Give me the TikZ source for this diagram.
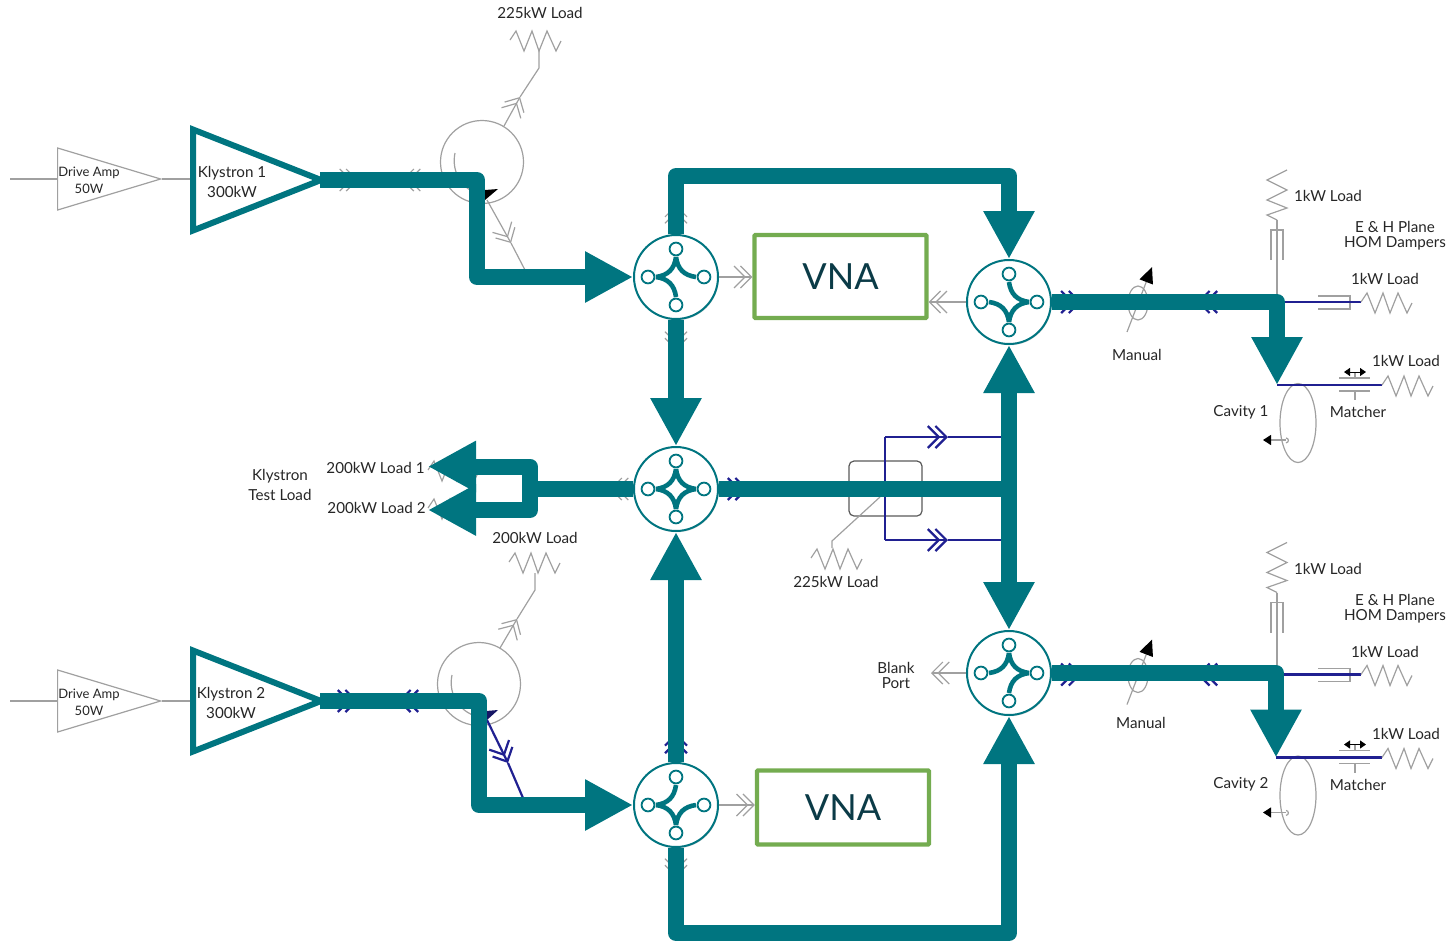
\documentclass[tikz,border=0pt]{standalone}
\usepackage{fontspec}
\setmainfont{Lato}
\usepackage{tikz}
\usetikzlibrary{arrows.meta,shapes,shadows}
\definecolor{rfteal}{RGB}{0,117,128}
\definecolor{rfgreen}{RGB}{116,172,80}
\definecolor{rfblue}{RGB}{32,32,145}
\definecolor{rfgray}{RGB}{160,160,160}
\definecolor{rftext}{RGB}{11,59,71}
\newcommand{\hzig}{-- ++(6,-9) -- ++(8,20) -- ++(8,-20) -- ++(7,20) -- ++(8,-20) -- ++(9,20) -- ++(5,-10)}
\newcommand{\hybrid}[4]{%
  \node [hybridbody] (#1) at (#2,#3) {};
  \foreach \a in {0,90,180,270}
    \node [hybridport] (#1p\a) at ([shift={(\a:14pt)}]#1.center) {};
  \foreach \a in {#4}
    \draw [hybridarm,rotate around={\a:(#1.center)}]
      ([shift={(0pt,10pt)}]#1.center) .. controls ([shift={(0.8pt,4pt)}]#1.center) and ([shift={(4pt,0.8pt)}]#1.center) .. ([shift={(10pt,0pt)}]#1.center);
}
\begin{document}
\begin{tikzpicture}[x=0.5pt,y=-0.5pt]
  \tikzstyle{thinline}=[rfgray,line width=0.6pt]
  \tikzstyle{blueline}=[rfblue,line width=1.1pt]
  \tikzstyle{chev}=[-{Straight Barb[length=5.5pt,width=11pt,sep=-3pt]Straight Barb[length=5.5pt,width=11pt]}]
  \tikzstyle{power}=[rfteal,line width=8pt,line join=round]
  \tikzstyle{powerarrow}=[power,-{Triangle[length=24pt,width=24pt]}]
  \tikzstyle{label}=[inner sep=0pt,text=black!85,font=\fontsize{7.6}{10}\selectfont,align=center]
  \tikzstyle{smalllabel}=[label,font=\fontsize{6.5}{8.5}\selectfont]
  \tikzstyle{tightlabel}=[label,font=\fontsize{7.6}{7.6}\selectfont]
  \tikzstyle{drive}=[isosceles triangle,isosceles triangle stretches,draw=rfgray,line width=0.6pt,
                     anchor=lower side,minimum height=51.5pt,minimum width=31pt,inner sep=0pt]
  \tikzstyle{klystron}=[isosceles triangle,isosceles triangle stretches,draw=rfteal,fill=white,line width=3pt,
                        anchor=lower side,minimum height=64pt,minimum width=50.5pt,inner sep=0pt,
                        drop shadow={opacity=0.25,shadow xshift=0.4pt,shadow yshift=-0.6pt}]
  \tikzstyle{circulator}=[circle,draw=rfgray,line width=0.6pt,minimum size=41.5pt,inner sep=0pt]
  \tikzstyle{hybridbody}=[circle,draw=rfteal,fill=white,line width=1pt,minimum size=42pt,inner sep=0pt,
                          drop shadow={opacity=0.3,shadow xshift=0.4pt,shadow yshift=-0.6pt}]
  \tikzstyle{hybridport}=[circle,draw=rfteal,fill=white,line width=0.9pt,minimum size=6.4pt,inner sep=0pt]
  \tikzstyle{hybridarm}=[rfteal,line width=2.3pt]
  \tikzstyle{vna}=[rectangle,draw=rfgreen,fill=white,line width=2.2pt,rounded corners=0.5pt,
                   minimum width=86pt,text=rftext,font=\fontsize{18}{22}\selectfont]
  \tikzstyle{coupler}=[rectangle,rounded corners=2.5pt,draw=black!65,line width=0.6pt,
                       minimum width=36.5pt,minimum height=27.5pt,inner sep=0pt]
  \tikzstyle{shifter}=[ellipse,draw=rfgray,line width=0.6pt,minimum width=10pt,minimum height=17pt,inner sep=0pt]
  \tikzstyle{cavity}=[ellipse,draw=rfgray,line width=0.6pt,minimum width=18pt,minimum height=39.5pt,inner sep=0pt]

  % hybrids and boxes
  \coordinate (b1) at (477,277);
  \coordinate (b2) at (479,805);
  \coordinate (b3) at (1009,176);
  \coordinate (b4) at (1009,933);
  \coordinate (j1) at (1009,489);
  \coordinate (j2) at (530,489);
  \coordinate (tip1) at (428,466.5);
  \coordinate (tip2) at (428,510);
  \node [vna,minimum height=41.5pt] (vna1) at (840.5,276.5) {VNA};
  \node [vna,minimum height=37pt] (vna2) at (843,807.5) {VNA};

  % klystron 1
  \begin{scope}
    \coordinate (in1) at (10,179);
    \node [drive] (drv1) at (57,179) {};
    \node [klystron] (k1) at (190,180) {};
    \node [smalllabel] (drvt1) at (89,180) {Drive Amp\\50W};
    \node [label] (kt1) at (232,181.5) {Klystron 1\\300kW};
    \node [circulator] (c1) at (482,162) {};
    \coordinate (ch1a) at (358,180);
    \coordinate (ch1b) at (402,180);
    \coordinate (ch1c) at (520,97);
    \coordinate (ch1d) at (511,243);
    \coordinate (ch1e) at (445,180);
    \coordinate (st1a) at (539,68);
    \coordinate (st1b) at (539,50);
    \coordinate (lz1) at (510,40);
    \coordinate (cs1) at (504,126);
    \coordinate (cd1) at (487,200);
    \coordinate (cb1) at (525,270);
    \node [label] (lt1) at (540,13) {225kW Load};
    \draw [thinline] (in1) -- (drv1.lower side);
    \draw [thinline] (drv1.apex) -- (k1.lower side |- drv1.apex);
    \draw [thinline,chev] (k1.apex) -- (ch1a);
    \draw [thinline,chev] (ch1e) -- (ch1b);
    \draw [thinline,chev] (cs1) -- (ch1c);
    \draw [thinline] (ch1c) -- (st1a) -- (st1b);
    \draw [thinline] (lz1) \hzig;
    \draw [thinline,chev] (cd1) -- (ch1d);
    \draw [thinline] (ch1d) -- (cb1);
    \draw [thinline] (455,153) .. controls (451,172) and (462,192) .. (486,196);
    \fill [black] (485,190) -- (498,189) -- (485,200) -- cycle;
  \end{scope}

  % klystron 2
  \begin{scope}
    \coordinate (in2) at (10,701);
    \node [drive] (drv2) at (57,701) {};
    \node [klystron] (k2) at (190,701) {};
    \node [smalllabel] (drvt2) at (89,702) {Drive Amp\\50W};
    \node [label] (kt2) at (231,702.5) {Klystron 2\\300kW};
    \node [circulator] (c2) at (479,684) {};
    \coordinate (ch2a) at (358,701);
    \coordinate (ch2b) at (398,701);
    \coordinate (ch2c) at (517,619);
    \coordinate (ch2d) at (508,763);
    \coordinate (ch2e) at (442,701);
    \coordinate (st2a) at (535,590);
    \coordinate (st2b) at (535,573);
    \coordinate (lz2) at (509,562);
    \coordinate (cs2) at (500,648);
    \coordinate (cd2) at (487,720);
    \coordinate (cb2) at (523,798);
    \node [label] (lt2) at (535,538) {200kW Load};
    \draw [thinline] (in2) -- (drv2.lower side);
    \draw [thinline] (drv2.apex) -- (k2.lower side |- drv2.apex);
    \draw [blueline,chev] (k2.apex) -- (ch2a);
    \draw [blueline,chev] (ch2e) -- (ch2b);
    \draw [thinline,chev] (cs2) -- (ch2c);
    \draw [thinline] (ch2c) -- (st2a) -- (st2b);
    \draw [thinline] (lz2) \hzig;
    \draw [blueline,chev] (cd2) -- (ch2d);
    \draw [blueline] (ch2d) -- (cb2);
    \draw [thinline] (452,675) .. controls (448,694) and (459,714) .. (483,718);
    \fill [rfblue!70!black] (486,711) -- (498,710) -- (487,720) -- cycle;
  \end{scope}

  % coupler and test loads
  \begin{scope}
    \node [coupler] (cp) at (885.5,488.5) {};
    \coordinate (cpa) at (885,437);
    \coordinate (cpb) at (885,540);
    \coordinate (cpc) at (948,437);
    \coordinate (cpd) at (948,540);
    \coordinate (cpe) at (1009,437);
    \coordinate (cpf) at (1009,540);
    \coordinate (cpg) at (880,497);
    \coordinate (cph) at (832,541);
    \coordinate (lz3) at (811,558);
    \coordinate (lz4) at (428,470);
    \coordinate (lz5) at (428,508);
    \node [label] (lt3) at (836,582) {225kW Load};
    \node [label] (lt4) at (375.5,468) {200kW Load 1};
    \node [label] (lt5) at (376.5,508) {200kW Load 2};
    \node [label] (lt6) at (280,485) {Klystron\\Test Load};
    \draw [blueline] (cpa) -- (cpb);
    \draw [blueline,chev] (cpa) -- (cpc);
    \draw [blueline,chev] (cpb) -- (cpd);
    \draw [blueline] (cpc) -- (cpe);
    \draw [blueline] (cpd) -- (cpf);
    \draw [thinline] (cpg) -- (cph) -- (832,548);
    \draw [thinline] (lz3) \hzig;
    \draw [thinline] (lz4) \hzig;
    \draw [thinline] (lz5) \hzig;
  \end{scope}

  % cavity 1
  \begin{scope}
    \coordinate (cr1) at (1277,302);
    \coordinate (ld1) at (1277,220);
    \coordinate (zg1) at (1361,302);
    \coordinate (zh1) at (1382,385);
    \coordinate (tp1) at (1277,385);
    \node [shifter] (ps1) at (1138,303) {};
    \node [cavity] (cv1) at (1298,423) {};
    \node [label] (lo1) at (1328,196) {1kW Load};
    \node [tightlabel] (eh1) at (1395,236) {E \& H Plane\\HOM Dampers};
    \node [label] (lo2) at (1385,279) {1kW Load};
    \node [label] (lo3) at (1406,361) {1kW Load};
    \node [label] (mn1) at (1137,355) {Manual};
    \node [label] (ct1) at (1241,412) {Cavity 1};
    \node [label] (mt1) at (1358,412) {Matcher};
    \draw [thinline] (1287,170) -- (1267,180) -- (1287,190) -- (1267,200) -- (1287,208) -- (1267,215) -- (ld1);
    \draw [thinline] (ld1) -- (cr1);
    \draw [thinline] (1271,260) -- (1271,230) -- (1283,230) -- (1283,260);
    \draw [thinline] (1318,296) -- (1350,296) -- (1350,309) -- (1318,309);
    \draw [blueline] (cr1) -- (zg1);
    \draw [thinline] (zg1) \hzig;
    \draw [blueline] (tp1) -- (zh1);
    \draw [thinline] (zh1) \hzig;
    \draw [thinline] (1339,378) -- (1370,378);
    \draw [thinline] (1339,391) -- (1370,391);
    \draw [thinline] (1355,372) -- (1355,378);
    \draw [thinline] (1355,391) -- (1355,400);
    \draw [black,line width=0.5pt,{Triangle[length=3pt,width=4pt]}-{Triangle[length=3pt,width=4pt]}] (1344,372) -- (1366,372);
    \draw [thinline,-{Triangle[black,length=8pt,width=7pt]}] (1127,332) -- (1152,267);
    \draw [thinline,-{Triangle[black,length=4pt,width=5pt]}] (1286,440) -- (1263,440);
    \draw [thinline] (1286,438) arc (90:-90:1.2pt);
    \draw [blueline,chev] (ps1.west) ++(-64,-1) -- ++(18,0);
    \draw [blueline,chev] (cr1) ++(-62,0) -- ++(-18,0);
  \end{scope}

  % cavity 2
  \begin{scope}[yshift=-186.25pt]
    \coordinate (cr2) at (1277,302);
    \coordinate (ld2) at (1277,220);
    \coordinate (zg2) at (1361,302);
    \coordinate (zh2) at (1382,385);
    \coordinate (tp2) at (1276,385);
    \node [shifter] (ps2) at (1138,303) {};
    \node [cavity] (cv2) at (1298,423) {};
    \node [label] (lo4) at (1328,196) {1kW Load};
    \node [tightlabel] (eh2) at (1395,236) {E \& H Plane\\HOM Dampers};
    \node [label] (lo5) at (1385,279) {1kW Load};
    \node [label] (lo6) at (1406,361) {1kW Load};
    \node [label] (mn2) at (1141,350) {Manual};
    \node [label] (ct2) at (1241,412) {Cavity 2};
    \node [label] (mt2) at (1358,412) {Matcher};
    \draw [thinline] (1287,170) -- (1267,180) -- (1287,190) -- (1267,200) -- (1287,208) -- (1267,215) -- (ld2);
    \draw [thinline] (ld2) -- (cr2);
    \draw [thinline] (1271,260) -- (1271,230) -- (1283,230) -- (1283,260);
    \draw [thinline] (1318,296) -- (1350,296) -- (1350,309) -- (1318,309);
    \draw [blueline] (cr2) -- (zg2);
    \draw [thinline] (zg2) \hzig;
    \draw [blueline] (tp2) -- (zh2);
    \draw [thinline] (zh2) \hzig;
    \draw [thinline] (1339,378) -- (1370,378);
    \draw [thinline] (1339,391) -- (1370,391);
    \draw [thinline] (1355,372) -- (1355,378);
    \draw [thinline] (1355,391) -- (1355,400);
    \draw [black,line width=0.5pt,{Triangle[length=3pt,width=4pt]}-{Triangle[length=3pt,width=4pt]}] (1344,372) -- (1366,372);
    \draw [thinline,-{Triangle[black,length=8pt,width=7pt]}] (1127,332) -- (1152,267);
    \draw [thinline,-{Triangle[black,length=4pt,width=5pt]}] (1286,440) -- (1263,440);
    \draw [thinline] (1286,438) arc (90:-90:1.2pt);
    \draw [blueline,chev] (ps2.west) ++(-64,-1) -- ++(18,0);
    \draw [blueline,chev] (cr2) ++(-62,0) -- ++(-18,0);
  \end{scope}

  % hybrids
  \hybrid{h1}{676}{277}{0,90,180}
  \hybrid{h2}{1009}{302}{0,180,270}
  \hybrid{h3}{676}{489}{0,90,180,270}
  \hybrid{h4}{1009}{673}{0,90,270}
  \hybrid{h5}{676}{805}{90,180,270}

  % small chevrons along the power paths
  \coordinate (ch3a) at (676,205);
  \coordinate (ch3b) at (676,350);
  \coordinate (ch3c) at (610,489);
  \coordinate (ch3d) at (748,489);
  \coordinate (ch3e) at (676,733);
  \coordinate (ch3f) at (676,877);
  \draw [thinline,chev] (h1.north) -- (ch3a);
  \draw [thinline,chev] (h1.south) -- (ch3b);
  \draw [thinline,chev] (h3.west) -- (ch3c);
  \draw [blueline,chev] (h3.east) -- (ch3d);
  \draw [blueline,chev] (h5.north) -- (ch3e);
  \draw [thinline,chev] (h5.south) -- (ch3f);
  \draw [thinline,chev] (h1.east) -- (vna1.west |- h1.east);
  \draw [thinline,chev] (h2.west) -- (vna1.east |- h2.west);
  \draw [thinline,chev] (h5.east) -- (vna2.west |- h5.east);
  \node [tightlabel] (bp) at (896,675.5) {Blank\\Port};
  \coordinate (bpa) at (931,673);
  \draw [thinline,chev] (h4.west) -- (bpa);

  % power paths
  \draw [powerarrow] ([xshift=-4.5pt]k1.apex) -| (b1) -- (h1.west);
  \draw [powerarrow] ([xshift=-4.5pt]k2.apex) -| (b2) -- (h5.west);
  \draw [powerarrow] (h1.north) |- (b3) -- (h2.north);
  \draw [powerarrow] (h1.south) -- (h3.north);
  \draw [powerarrow] (h5.north) -- (h3.south);
  \draw [powerarrow] (h5.south) |- (b4) -- (h4.south);
  \draw [power] (h3.east) -- (j1);
  \draw [power] (h3.west) -- (j2);
  \draw [powerarrow] (j1) -- (h2.south);
  \draw [powerarrow] (j1) -- (h4.north);
  \draw [powerarrow] (j2) |- (tip1);
  \draw [powerarrow] (j2) |- (tip2);
  \draw [powerarrow] (h2.east) -| (tp1);
  \draw [powerarrow] (h4.east) -| (tp2);
  \useasboundingbox (0,0) rectangle (1453,944);
\end{tikzpicture}
\end{document}
